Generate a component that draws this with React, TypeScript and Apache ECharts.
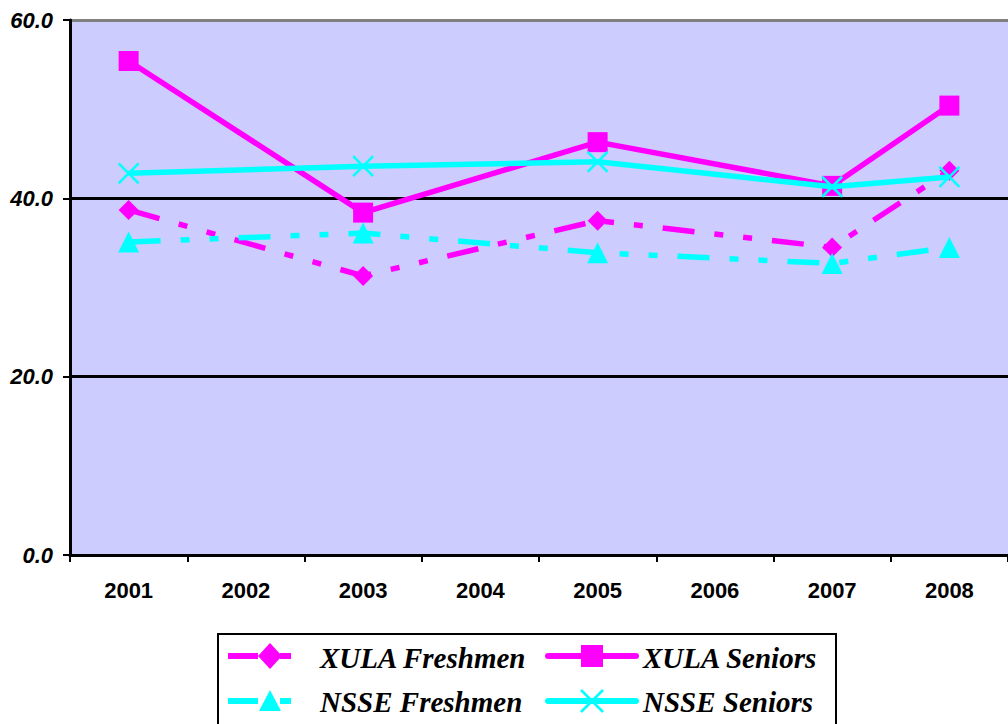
import React, { useEffect, useRef } from "react";
import * as echarts from "echarts";

const years = ["2001", "2002", "2003", "2004", "2005", "2006", "2007", "2008"];
const xulaFreshmen = [38.7, null, 31.3, null, 37.5, null, 34.5, 43.1];
const xulaSeniors = [55.4, null, 38.4, null, 46.3, null, 41.4, 50.4];
const nsseFreshmen = [35.1, null, 36.1, null, 33.9, null, 32.7, 34.5];
const nsseSeniors = [42.8, null, 43.6, null, 44.1, null, 41.3, 42.4];
const yTicks = [0, 20, 40, 60];
const seriesNames = ["XULA Freshmen", "XULA Seniors", "NSSE Freshmen", "NSSE Seniors"];

const MAGENTA = "#FF00FF";
const CYAN = "#00FFFF";
const DASH = [32, 20, 9, 20, 9, 20];
const XSYM = "path://M0,0L20,20M20,0L0,20";

export default function App() {
  const ref = useRef<HTMLDivElement>(null);
  useEffect(() => {
    const chart = echarts.init(ref.current!, null, { renderer: "svg" });
    const legendFont = "italic bold 29px Liberation Serif";
    const r1 = 656;
    const r2 = 701;
    const legendGraphics: any[] = [
      // box
      {
        type: "rect",
        shape: { x: 218, y: 634, width: 618, height: 120 },
        style: { fill: "#fff", stroke: "#000", lineWidth: 2 },
        z: 10,
      },
      // XULA Freshmen icon
      {
        type: "line",
        shape: { x1: 228, y1: r1, x2: 296, y2: r1 },
        style: { stroke: MAGENTA, lineWidth: 6, lineDash: [30, 22, 11, 20] },
        z: 11,
      },
      {
        type: "polygon",
        shape: { points: [[270, r1 - 13], [282, r1], [270, r1 + 13], [258, r1]] },
        style: { fill: MAGENTA },
        z: 12,
      },
      // XULA Seniors icon
      {
        type: "line",
        shape: { x1: 548, y1: r1, x2: 636, y2: r1 },
        style: { stroke: MAGENTA, lineWidth: 6, lineCap: "round" },
        z: 11,
      },
      {
        type: "rect",
        shape: { x: 581, y: r1 - 11, width: 22, height: 22 },
        style: { fill: MAGENTA },
        z: 12,
      },
      // NSSE Freshmen icon
      {
        type: "line",
        shape: { x1: 228, y1: r2, x2: 296, y2: r2 },
        style: { stroke: CYAN, lineWidth: 6, lineDash: [30, 22, 11, 20] },
        z: 11,
      },
      {
        type: "polygon",
        shape: { points: [[270, r2 - 11], [281, r2 + 10], [259, r2 + 10]] },
        style: { fill: CYAN },
        z: 12,
      },
      // NSSE Seniors icon
      {
        type: "line",
        shape: { x1: 548, y1: r2, x2: 636, y2: r2 },
        style: { stroke: CYAN, lineWidth: 6, lineCap: "round" },
        z: 11,
      },
      {
        type: "line",
        shape: { x1: 581, y1: r2 - 11, x2: 603, y2: r2 + 11 },
        style: { stroke: CYAN, lineWidth: 2.5 },
        z: 12,
      },
      {
        type: "line",
        shape: { x1: 603, y1: r2 - 11, x2: 581, y2: r2 + 11 },
        style: { stroke: CYAN, lineWidth: 2.5 },
        z: 12,
      },
      // texts
      {
        type: "text",
        x: 320,
        y: r1 + 2,
        style: { text: seriesNames[0], font: legendFont, fill: "#000", verticalAlign: "middle" },
        z: 12,
      },
      {
        type: "text",
        x: 643,
        y: r1 + 2,
        style: { text: seriesNames[1], font: legendFont, fill: "#000", verticalAlign: "middle" },
        z: 12,
      },
      {
        type: "text",
        x: 320,
        y: r2 + 1,
        style: { text: seriesNames[2], font: legendFont, fill: "#000", verticalAlign: "middle" },
        z: 12,
      },
      {
        type: "text",
        x: 643,
        y: r2 + 1,
        style: { text: seriesNames[3], font: legendFont, fill: "#000", verticalAlign: "middle" },
        z: 12,
      },
    ];
    chart.setOption({
      animation: false,
      backgroundColor: "#fff",
      grid: {
        left: 70,
        top: 20,
        width: 944,
        height: 535,
        show: true,
        backgroundColor: "#CCCCFF",
        borderWidth: 0,
      },
      graphic: legendGraphics,
      xAxis: {
        type: "category",
        data: years,
        boundaryGap: true,
        axisLine: { lineStyle: { color: "#000", width: 3 } },
        axisTick: { show: true, length: 7, lineStyle: { color: "#000", width: 2 } },
        axisLabel: {
          margin: 24,
          fontFamily: "Liberation Sans",
          fontWeight: "bold",
          fontSize: 22,
          color: "#000",
        },
      },
      yAxis: {
        type: "value",
        min: yTicks[0],
        max: yTicks[yTicks.length - 1],
        interval: 20,
        axisLine: { show: true, lineStyle: { color: "#000", width: 3 } },
        axisTick: { show: true, length: 7, lineStyle: { color: "#000", width: 2 } },
        axisLabel: {
          margin: 17,
          fontFamily: "Liberation Sans",
          fontWeight: "bold",
          fontStyle: "italic",
          fontSize: 22,
          color: "#000",
          formatter: (v: number) => v.toFixed(1),
        },
        splitLine: {
          show: true,
          lineStyle: { color: ["#000", "#000", "#000", "#808080"], width: 3 },
        },
      },
      series: [
        {
          name: seriesNames[0],
          type: "line",
          data: xulaFreshmen,
          connectNulls: true,
          symbol: "diamond",
          symbolSize: 20,
          lineStyle: { color: MAGENTA, width: 5.5, type: DASH },
          itemStyle: { color: MAGENTA },
          z: 3,
        },
        {
          name: seriesNames[1],
          type: "line",
          data: xulaSeniors,
          connectNulls: true,
          symbol: "rect",
          symbolSize: 20,
          lineStyle: { color: MAGENTA, width: 5.5 },
          itemStyle: { color: MAGENTA },
          z: 3,
        },
        {
          name: seriesNames[2],
          type: "line",
          data: nsseFreshmen,
          connectNulls: true,
          symbol: "triangle",
          symbolSize: 21,
          lineStyle: { color: CYAN, width: 5.5, type: DASH },
          itemStyle: { color: CYAN },
          z: 4,
        },
        {
          name: seriesNames[3],
          type: "line",
          data: nsseSeniors,
          connectNulls: true,
          symbol: XSYM,
          symbolSize: 20,
          lineStyle: { color: CYAN, width: 5.5 },
          itemStyle: { color: CYAN, borderColor: CYAN, borderWidth: 2.5 },
          z: 4,
        },
      ],
    });
    return () => chart.dispose();
  }, []);
  return (
    <div
      ref={ref}
      style={{ position: "fixed", left: 0, top: 0, width: 1008, height: 724 }}
    />
  );
}
